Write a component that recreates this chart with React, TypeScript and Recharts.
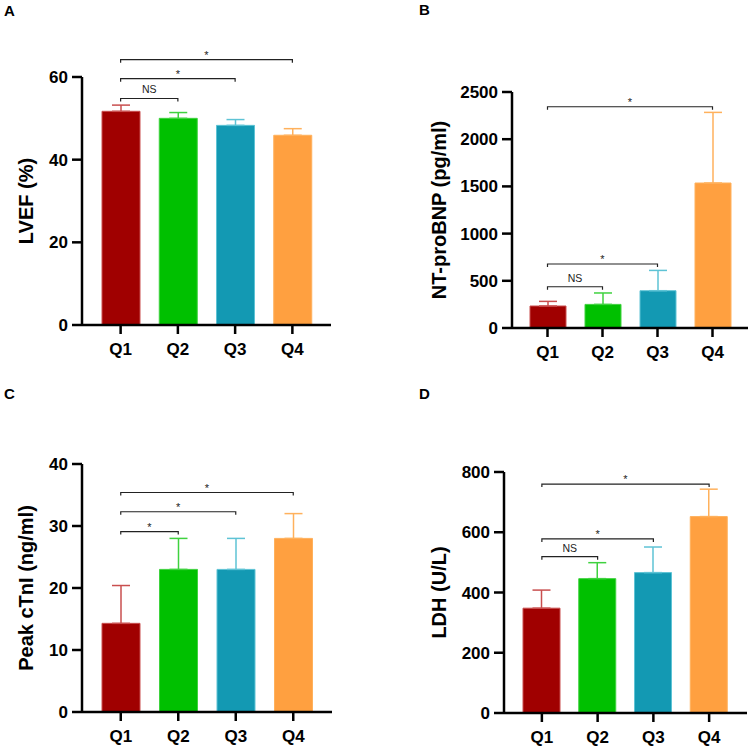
import React from 'react';
import { BarChart, Bar, XAxis, YAxis, ErrorBar, Cell, ReferenceLine } from 'recharts';

const FONT = '"Liberation Sans", Arial, Helvetica, sans-serif';

const quartiles = ['Q1', 'Q2', 'Q3', 'Q4'];
const fillColors = ['#a00000', '#00c000', '#1399b3', '#ffa040'];
const whiskerColors = ['#c94f4f', '#3fd23f', '#5ec3d5', '#ffb15c'];

// A: LVEF (%)
const lvefMean = [51.7, 50.0, 48.3, 45.9];
const lvefSd = [1.5, 1.4, 1.4, 1.6];
const lvefTicks = [0, 20, 40, 60];
const lvefSig = [
  { to: 'Q2', y: 54.8, text: 'NS' },
  { to: 'Q3', y: 59.6, text: '*' },
  { to: 'Q4', y: 64.2, text: '*' },
];

// B: NT-proBNP (pg/ml)
const bnpMean = [233, 250, 395, 1536];
const bnpSd = [49, 121, 215, 748];
const bnpTicks = [0, 500, 1000, 1500, 2000, 2500];
const bnpSig = [
  { to: 'Q2', y: 437, text: 'NS' },
  { to: 'Q3', y: 678, text: '*' },
  { to: 'Q4', y: 2344, text: '*' },
];

// C: Peak cTnI (ng/ml)
const ctniMean = [14.3, 23, 23, 28];
const ctniSd = [6.1, 5, 5, 4];
const ctniTicks = [0, 10, 20, 30, 40];
const ctniSig = [
  { to: 'Q2', y: 29.1, text: '*' },
  { to: 'Q3', y: 32.3, text: '*' },
  { to: 'Q4', y: 35.4, text: '*' },
];

// D: LDH (U/L)
const ldhMean = [348, 446, 466, 652];
const ldhSd = [60, 53, 85, 91];
const ldhTicks = [0, 200, 400, 600, 800];
const ldhSig = [
  { to: 'Q2', y: 519, text: 'NS' },
  { to: 'Q3', y: 578, text: '*' },
  { to: 'Q4', y: 760, text: '*' },
];

type Sig = { to: string; y: number; text: string };
type PanelCfg = {
  letter: string;
  left: number;
  top: number;
  letterX: number;
  letterY: number;
  title: string;
  mean: number[];
  sd: number[];
  ticks: number[];
  sig: Sig[];
  yWidth: number;
  margin: { top: number; right: number; bottom: number; left: number };
  pad: number;
  barSize: number;
  labelDist: number;
};

const panels: PanelCfg[] = [
  {
    letter: 'A', left: 0, top: 0, letterX: 4, letterY: 3,
    title: 'LVEF (%)', mean: lvefMean, sd: lvefSd, ticks: lvefTicks, sig: lvefSig,
    yWidth: 82, margin: { top: 77, right: 45, bottom: 19, left: 0 }, pad: 10, barSize: 38, labelDist: 56,
  },
  {
    letter: 'B', left: 376, top: 0, letterX: 43, letterY: 2,
    title: 'NT-proBNP (pg/ml)', mean: bnpMean, sd: bnpSd, ticks: bnpTicks, sig: bnpSig,
    yWidth: 136, margin: { top: 92, right: 4, bottom: 16, left: 0 }, pad: 8, barSize: 36, labelDist: 73,
  },
  {
    letter: 'C', left: 0, top: 374, letterX: 4, letterY: 12,
    title: 'Peak cTnI (ng/ml)', mean: ctniMean, sd: ctniSd, ticks: ctniTicks, sig: ctniSig,
    yWidth: 82, margin: { top: 90, right: 44, bottom: 6, left: 0 }, pad: 10, barSize: 38, labelDist: 56,
  },
  {
    letter: 'D', left: 376, top: 374, letterX: 43, letterY: 12,
    title: 'LDH (U/L)', mean: ldhMean, sd: ldhSd, ticks: ldhTicks, sig: ldhSig,
    yWidth: 128, margin: { top: 98, right: 5, bottom: 5, left: 0 }, pad: 10, barSize: 37, labelDist: 65,
  },
];

// Significance bracket: horizontal bar with short downward ends and a label above
const bracket = (text: string) => (props: any) => {
  const { x1, y1, x2 } = props;
  if (x1 == null || y1 == null || x2 == null) return <g />;
  const isStar = text === '*';
  return (
    <g>
      <path
        d={`M${x1},${y1 + 3} L${x1},${y1} L${x2},${y1} L${x2},${y1 + 3}`}
        stroke="#222"
        strokeWidth={1.2}
        fill="none"
      />
      <text
        x={(x1 + x2) / 2}
        y={isStar ? y1 - 1 : y1 - 5}
        textAnchor="middle"
        fontFamily={FONT}
        fontSize={isStar ? 11 : 10.5}
        fill="#222"
      >
        {text}
      </text>
    </g>
  );
};

const axisStroke = { stroke: '#000', strokeWidth: 2.5 };
const tickFont = { fill: '#000', fontSize: 17, fontWeight: 700, fontFamily: FONT };

function Panel({ cfg }: { cfg: PanelCfg }) {
  const rows = quartiles.map((q, i) => ({
    name: q,
    value: cfg.mean[i],
    [`e${i}`]: [0, cfg.sd[i]],
  }));
  const yMax = cfg.ticks[cfg.ticks.length - 1];
  const yLabel = (p: any) => {
    const vb = p.viewBox || {};
    const cx = vb.x + vb.width - cfg.labelDist;
    const cy = vb.y + vb.height / 2;
    return (
      <text
        x={cx}
        y={cy}
        transform={`rotate(-90, ${cx}, ${cy})`}
        textAnchor="middle"
        dominantBaseline="central"
        fontFamily={FONT}
        fontSize={20}
        fontWeight={700}
        fill="#000"
      >
        {cfg.title}
      </text>
    );
  };
  return (
    <div style={{ position: 'absolute', left: cfg.left, top: cfg.top, width: 376, height: 374 }}>
      <div
        style={{
          position: 'absolute',
          left: cfg.letterX,
          top: cfg.letterY,
          fontFamily: FONT,
          fontSize: 15,
          fontWeight: 700,
          lineHeight: '15px',
          color: '#000',
        }}
      >
        {cfg.letter}
      </div>
      <BarChart width={376} height={374} data={rows} margin={cfg.margin}>
        <XAxis
          dataKey="name"
          type="category"
          padding={{ left: cfg.pad, right: cfg.pad }}
          height={30}
          axisLine={axisStroke}
          tickLine={axisStroke}
          tickSize={9}
          tickMargin={9}
          tick={tickFont}
          interval={0}
        />
        <YAxis
          type="number"
          domain={[0, yMax]}
          ticks={cfg.ticks}
          width={cfg.yWidth}
          axisLine={axisStroke}
          tickLine={axisStroke}
          tickSize={10}
          tickMargin={4}
          tick={tickFont}
          interval={0}
          label={yLabel}
        />
        <Bar dataKey="value" barSize={cfg.barSize} isAnimationActive={false}>
          {quartiles.map((q, i) => (
            <Cell key={q} fill={fillColors[i]} stroke={whiskerColors[i]} strokeWidth={1} />
          ))}
          {quartiles.map((q, i) => (
            <ErrorBar
              key={`err-${q}`}
              dataKey={`e${i}`}
              direction="y"
              width={9}
              stroke={whiskerColors[i]}
              strokeWidth={1.5}
              isAnimationActive={false}
            />
          ))}
        </Bar>
        {cfg.sig.map((s) => (
          <ReferenceLine
            key={`${s.to}-${s.y}`}
            segment={[
              { x: 'Q1', y: s.y },
              { x: s.to, y: s.y },
            ]}
            ifOverflow="visible"
            shape={bracket(s.text)}
          />
        ))}
      </BarChart>
    </div>
  );
}

export default function App() {
  return (
    <div
      style={{
        position: 'absolute',
        left: 0,
        top: 0,
        width: 752,
        height: 748,
        background: '#fff',
        fontFamily: FONT,
      }}
    >
      {panels.map((cfg) => (
        <Panel key={cfg.letter} cfg={cfg} />
      ))}
    </div>
  );
}
